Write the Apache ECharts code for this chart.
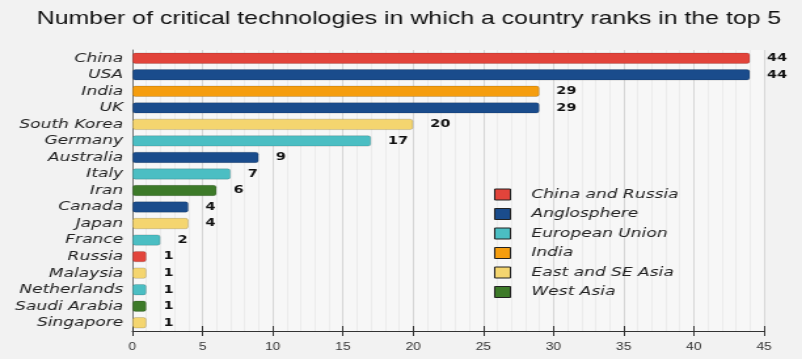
<!DOCTYPE html>
<html><head><meta charset="utf-8">
<style>html,body{margin:0;padding:0;background:#f2f2f2;overflow:hidden}#c{width:612px;height:359px;transform:scaleX(1.3105);transform-origin:0 0}</style>
<script src="https://cdn.jsdelivr.net/npm/echarts@6/dist/echarts.min.js"></script>
</head><body><div id="c"></div>
<script>
const categories = ["China","USA","India","UK","South Korea","Germany","Australia","Italy","Iran","Canada","Japan","France","Russia","Malaysia","Netherlands","Saudi Arabia","Singapore"];
const values = [44,44,29,29,20,17,9,7,6,4,4,2,1,1,1,1,1];
const groupOf = ["China and Russia","Anglosphere","India","Anglosphere","East and SE Asia","European Union","Anglosphere","European Union","West Asia","Anglosphere","East and SE Asia","European Union","China and Russia","East and SE Asia","European Union","West Asia","East and SE Asia"];
const groups = ["China and Russia","Anglosphere","European Union","India","East and SE Asia","West Asia"];
const groupColors = ["#e2443b","#1a4c8c","#4bbec3","#f59d0e","#f4d56f","#3d7a29"];
const xTicks = [0,5,10,15,20,25,30,35,40,45];

const chart = echarts.init(document.getElementById('c'), null, {renderer:'canvas'});
const series = groups.map((g, gi) => ({
  name: g,
  type: 'bar',
  stack: 'all',
  barWidth: 11,
  data: values.map((v, i) => groupOf[i] === g ? v : null),
  itemStyle: {color: groupColors[gi], borderColor: 'rgba(0,0,0,0.25)', borderWidth: 0.6, borderRadius: 2},
  label: {show: true, position: 'right', distance: 13, fontFamily: 'DejaVu Sans', fontWeight: 'bold', fontSize: 11, color: '#111'}
}));
chart.setOption({
  backgroundColor: '#f2f2f2',
  animation: false,
  title: {text: 'Number of critical technologies in which a country ranks in the top 5', left: 23, top: 4,
    textStyle: {fontFamily: 'Liberation Sans', fontWeight: 'normal', fontSize: 19, color: '#111'}},
  legend: {orient: 'vertical', left: 372, top: 183, itemWidth: 12, itemHeight: 11, itemGap: 6.5,
    icon: 'rect', data: groups,
    itemStyle: {borderColor: '#222', borderWidth: 1},
    textStyle: {fontFamily: 'DejaVu Sans', fontStyle: 'italic', fontSize: 13, color: '#222', padding: [0,0,0,11]}},
  grid: {left: 101, right: 29, top: 50, bottom: 28, show: true, backgroundColor: '#f7f7f7', borderWidth: 0},
  xAxis: [{type: 'value', min: 0, max: 45, interval: 5,
    axisLine: {show: true, lineStyle: {color: '#333', width: 1}},
    axisTick: {show: true, length: 5, lineStyle: {color: '#333'}},
    axisLabel: {fontFamily: 'Liberation Sans', fontSize: 10.5, color: '#333', margin: 11,
      formatter: v => xTicks.includes(v) ? String(v) : ''},
    splitLine: {show: true, lineStyle: {color: '#d6d6d6'}},
    minorTick: {show: false, splitNumber: 5},
    minorSplitLine: {show: true, lineStyle: {color: '#ececec'}}},
   {type: 'value', min: 0, max: 45, interval: 5, position: 'bottom',
    axisLine: {show: false}, axisLabel: {show: false}, splitLine: {show: false},
    axisTick: {show: true, inside: true, length: 5, lineStyle: {color: '#333'}}}],
  yAxis: {type: 'category', data: categories, inverse: true,
    axisLine: {show: true, lineStyle: {color: '#777'}},
    axisTick: {show: false},
    axisLabel: {interval: 0, fontFamily: 'DejaVu Sans', fontStyle: 'italic', fontSize: 13, color: '#222', margin: 7}},
  series: series
});
</script></body></html>
